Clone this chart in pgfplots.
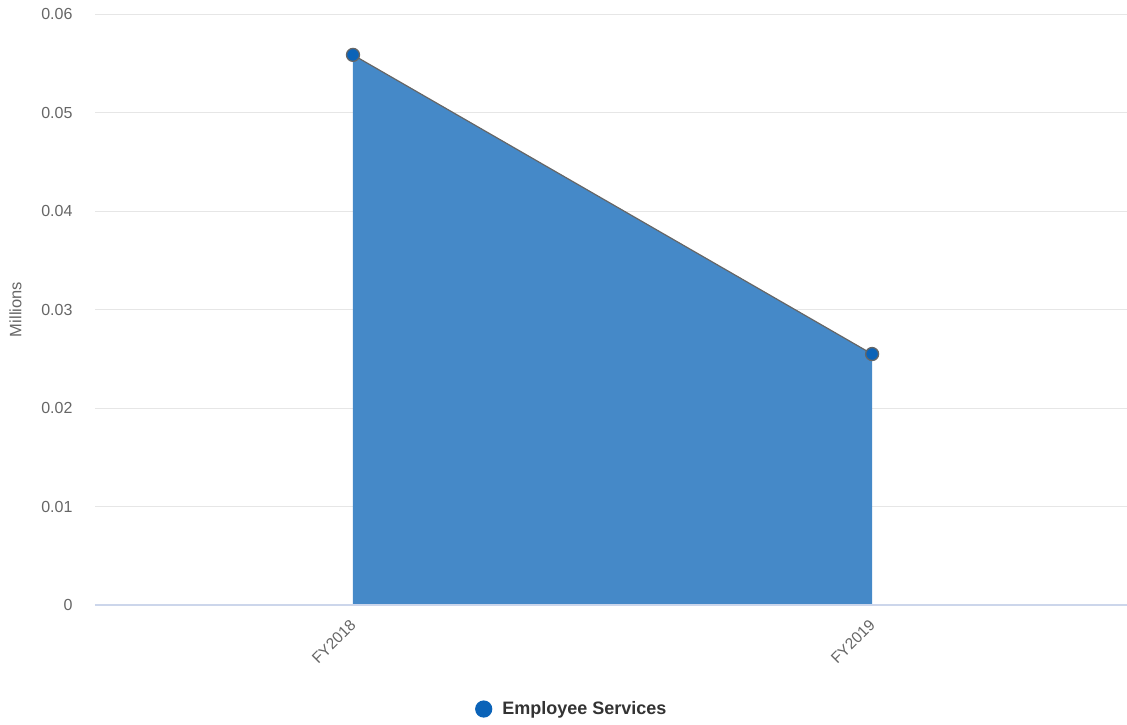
\documentclass[border=0pt]{standalone}
\usepackage{fontspec}
\setmainfont{Liberation Sans}
\usepackage{pgfplots}
\pgfplotsset{compat=1.18}
\definecolor{areafill}{HTML}{4589C8}
\definecolor{markfill}{HTML}{0B63B8}
\definecolor{linegray}{HTML}{666666}
\definecolor{gridgray}{HTML}{E6E6E6}
\definecolor{axisblue}{HTML}{CCD6EB}
\definecolor{ticktext}{HTML}{666666}
\definecolor{legtext}{HTML}{333333}
\begin{document}
\begin{tikzpicture}[x=1pt,y=1pt]
\useasboundingbox (-95,-119) rectangle (1032,605);
\begin{axis}[
  at={(0,0)}, anchor=south west,
  scale only axis, width=1032pt, height=591pt,
  xmin=-0.497, xmax=1.491, ymin=0, ymax=0.06,
  xtick={0,1}, xticklabels={FY2018,FY2019},
  ytick={0,0.01,0.02,0.03,0.04,0.05,0.06},
  yticklabels={0,0.01,0.02,0.03,0.04,0.05,0.06},
  major tick length=0pt,
  axis line style={draw=none},
  axis x line*=bottom,
  axis y line*=left,
  ymajorgrids, grid style={gridgray, line width=1pt},
  tick label style={font=\fontsize{15.5}{18}\selectfont, text=ticktext},
  yticklabel style={anchor=east, xshift=-19pt, font=\fontsize{16}{18}\selectfont},
  xticklabel style={rotate=45, anchor=north east, xshift=-9pt, yshift=-3.5pt},
  ylabel={Millions},
  ylabel style={at={(axis description cs:-0.077,0.5)}, anchor=center, font=\fontsize{16.5}{18}\selectfont, text=ticktext},
  legend style={at={(axis description cs:0.462,-0.176)}, anchor=center, draw=none, fill=none,
    font=\fontsize{18}{20}\selectfont\bfseries, text=legtext, legend columns=1},
  legend image code/.code={\fill[markfill] (0pt,0pt) circle (8pt);},
  clip=false,
]
\addplot[fill=areafill, draw=none, forget plot] coordinates {(0,0.05585) (1,0.02548)} \closedcycle;
\draw[axisblue, line width=1.2pt] (axis cs:-0.497,0) -- (axis cs:1.491,0);
\addplot[linegray, line width=1.2pt, mark=*, mark size=6.5pt,
  mark options={fill=markfill, draw=linegray, line width=1.3pt}] coordinates {(0,0.05585) (1,0.02548)};
\addlegendentry{\hspace{8pt}Employee Services}
\end{axis}
\end{tikzpicture}
\end{document}
